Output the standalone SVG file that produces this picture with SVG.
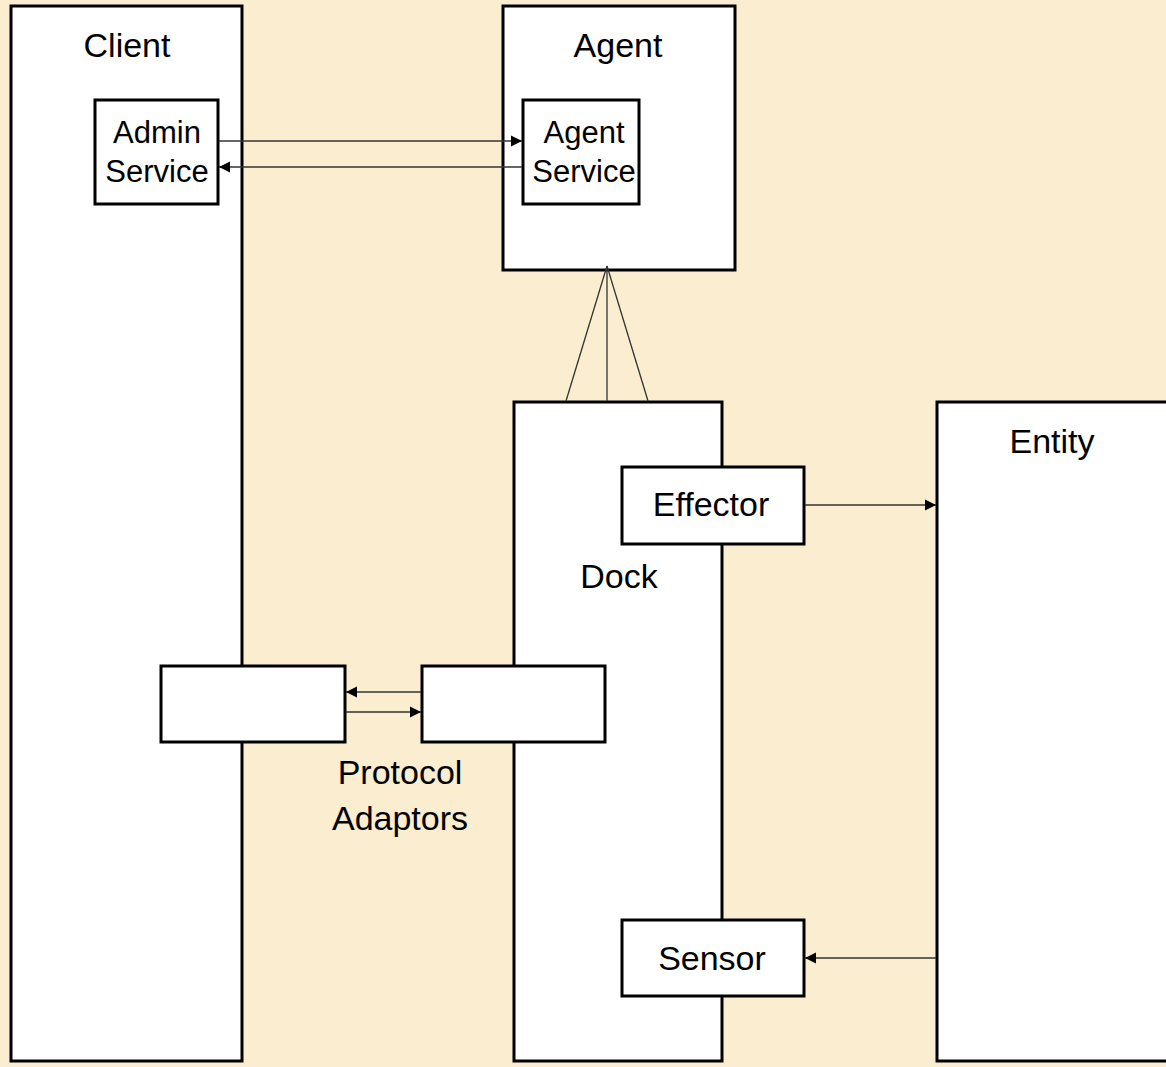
<svg xmlns="http://www.w3.org/2000/svg" width="1166" height="1067" viewBox="0 0 1166 1067">
<style>
.box{fill:#fff;stroke:#000;stroke-width:3}
.ln{stroke:#333;stroke-width:1.3;fill:none}
.t{font-family:"Liberation Sans",Arial,sans-serif;font-size:34px;fill:#000;text-anchor:middle}
.s{font-family:"Liberation Sans",Arial,sans-serif;font-size:31px;fill:#000;text-anchor:middle}
</style>
<defs>
<marker id="ah" viewBox="0 0 10 10" refX="10" refY="5" markerWidth="11" markerHeight="14" markerUnits="userSpaceOnUse" orient="auto">
<path d="M0,0 L10,5 L0,10 Z" fill="#000"/>
</marker>
</defs>
<rect width="1166" height="1067" fill="#FBEDD0"/>
<g id="client">
<rect class="box" x="11" y="6" width="231" height="1055"/>
<text class="t" x="127" y="57">Client</text>
</g>
<g id="agent">
<rect class="box" x="503" y="6" width="232" height="264"/>
<text class="t" x="618" y="57">Agent</text>
</g>
<g id="dock">
<rect class="box" x="514" y="402" width="208" height="659"/>
<text class="t" x="619" y="588">Dock</text>
</g>
<g id="entity">
<rect class="box" x="937" y="402" width="240" height="659"/>
<text class="t" x="1052" y="453">Entity</text>
</g>
<g id="admin-service">
<rect class="box" x="95" y="100" width="123" height="104"/>
<text class="s" x="157" y="143">Admin</text>
<text class="s" x="157" y="182">Service</text>
</g>
<g id="agent-service">
<rect class="box" x="523" y="100" width="116" height="104"/>
<text class="s" x="584" y="143">Agent</text>
<text class="s" x="584" y="182">Service</text>
</g>
<g id="effector">
<rect class="box" x="622" y="467" width="182" height="77"/>
<text class="t" x="711" y="516">Effector</text>
</g>
<g id="sensor">
<rect class="box" x="622" y="920" width="182" height="76"/>
<text class="t" x="712" y="970">Sensor</text>
</g>
<g id="adaptor-client">
<rect class="box" x="161" y="666" width="184" height="76"/>
</g>
<g id="adaptor-dock">
<rect class="box" x="422" y="666" width="183" height="76"/>
</g>
<g id="protocol-label">
<text class="t" x="400" y="784">Protocol</text>
<text class="t" x="400" y="830">Adaptors</text>
</g>
<g id="connectors">
<line class="ln" x1="219" y1="141" x2="522" y2="141" marker-end="url(#ah)"/>
<line class="ln" x1="522" y1="167" x2="219" y2="167" marker-end="url(#ah)"/>
<line class="ln" x1="607" y1="266" x2="566" y2="401"/>
<line class="ln" x1="607" y1="266" x2="607" y2="401"/>
<line class="ln" x1="607" y1="266" x2="648" y2="401"/>
<line class="ln" x1="421" y1="692" x2="346" y2="692" marker-end="url(#ah)"/>
<line class="ln" x1="346" y1="712" x2="421" y2="712" marker-end="url(#ah)"/>
<line class="ln" x1="805" y1="505" x2="936" y2="505" marker-end="url(#ah)"/>
<line class="ln" x1="936" y1="958" x2="805" y2="958" marker-end="url(#ah)"/>
</g>
</svg>
